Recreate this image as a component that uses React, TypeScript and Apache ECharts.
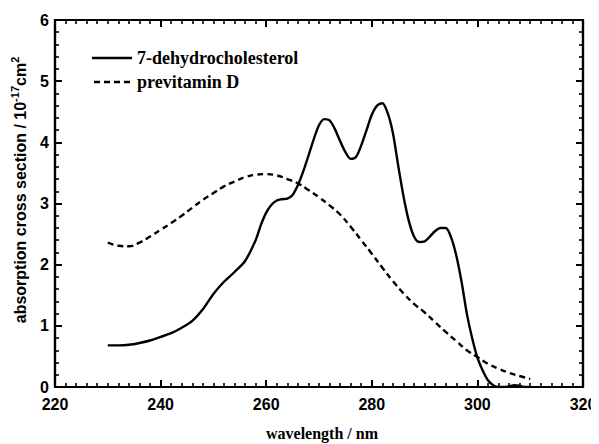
import React, { useEffect, useRef } from "react";
import * as echarts from "echarts";

const dhcWavelengths = [230, 232, 234, 236, 238, 240, 242, 244, 246, 248, 250, 252, 254, 256, 258, 259, 260, 261, 262, 263, 264, 265, 266, 267, 268, 269, 270, 271, 272, 273, 274, 275, 276, 277, 278, 279, 280, 281, 282, 283, 284, 285, 286, 287, 288, 289, 290, 291, 292, 293, 294, 295, 296, 297, 298, 299, 300, 301, 302, 303, 304, 305, 306, 307, 308, 309, 310];
const dhcValues = [0.68, 0.68, 0.69, 0.72, 0.76, 0.82, 0.88, 0.97, 1.08, 1.27, 1.52, 1.72, 1.88, 2.06, 2.4, 2.65, 2.85, 2.98, 3.05, 3.07, 3.08, 3.14, 3.3, 3.52, 3.78, 4.05, 4.28, 4.38, 4.36, 4.22, 4.02, 3.84, 3.73, 3.76, 3.95, 4.2, 4.45, 4.6, 4.64, 4.48, 4.15, 3.62, 3.12, 2.72, 2.46, 2.37, 2.38, 2.46, 2.55, 2.6, 2.6, 2.45, 2.15, 1.72, 1.2, 0.8, 0.48, 0.27, 0.11, 0.03, 0.0, 0.0, 0.01, 0.03, 0.02, 0.0, 0.0];

const previtWavelengths = [230, 232, 234, 236, 238, 240, 242, 244, 246, 248, 250, 252, 254, 256, 258, 260, 262, 264, 266, 268, 270, 272, 274, 276, 278, 280, 282, 284, 286, 288, 290, 292, 294, 296, 298, 300, 302, 304, 306, 308, 310];
const previtValues = [2.36, 2.31, 2.3, 2.36, 2.46, 2.57, 2.68, 2.8, 2.93, 3.06, 3.17, 3.28, 3.36, 3.43, 3.47, 3.48, 3.46, 3.4, 3.33, 3.22, 3.1, 2.97, 2.82, 2.62, 2.4, 2.18, 1.95, 1.73, 1.53, 1.36, 1.22, 1.06, 0.9, 0.75, 0.6, 0.49, 0.38, 0.3, 0.23, 0.18, 0.13];

const xRange = [220, 320];
const yRange = [0, 6];

const seriesNames = ["7-dehydrocholesterol", "previtamin D"];
const xTitle = "wavelength / nm";
const yTitleMain = "absorption cross section / 10";
const yTitleExp = "-17";
const yTitleUnit = "cm";
const yTitleUnitExp = "2";

const serif = "'Liberation Serif', 'Times New Roman', serif";
const sans = "'Liberation Sans', Arial, sans-serif";

const solidIcon = "path://M0,0H40V2.4H0Z";
const dashedIcon = "path://M0,0H6V2.4H0ZM10,0H16V2.4H10ZM20,0H26V2.4H20ZM30,0H36V2.4H30Z";

function axisStyle(showLabel: boolean, minorSplit: number, margin: number) {
  return {
    z: 10,
    axisLine: { show: true, onZero: false, lineStyle: { color: "#000", width: 2.2 } },
    axisTick: { show: true, inside: true, length: 7, lineStyle: { color: "#000", width: 2 } },
    minorTick: { show: true, splitNumber: minorSplit, length: 4, lineStyle: { color: "#000", width: 1.6 } },
    splitLine: { show: false },
    axisLabel: {
      show: showLabel,
      color: "#000",
      fontFamily: sans,
      fontWeight: "bold" as const,
      fontSize: 16,
      margin,
    },
  };
}

export default function App() {
  const ref = useRef<HTMLDivElement>(null);
  useEffect(() => {
    if (!ref.current) return;
    const chart = echarts.init(ref.current, undefined, { renderer: "svg" });
    chart.setOption({
      animation: false,
      grid: { left: 47, right: 24, top: 12, bottom: 65 },
      legend: {
        orient: "vertical",
        left: 84,
        top: 41,
        itemWidth: 40,
        itemHeight: 2.4,
        itemGap: 6,
        padding: 0,
        data: [
          { name: seriesNames[0], icon: solidIcon },
          { name: seriesNames[1], icon: dashedIcon },
        ],
        textStyle: { fontFamily: serif, fontWeight: "bold", fontSize: 18, color: "#000", lineHeight: 16 },
      },
      xAxis: [
        { type: "value", position: "bottom", min: xRange[0], max: xRange[1], interval: 20, ...axisStyle(true, 10, 9) },
        { type: "value", position: "top", min: xRange[0], max: xRange[1], interval: 20, ...axisStyle(false, 10, 9) },
      ],
      yAxis: [
        { type: "value", position: "left", min: yRange[0], max: yRange[1], interval: 1, ...axisStyle(true, 5, 6) },
        { type: "value", position: "right", min: yRange[0], max: yRange[1], interval: 1, ...axisStyle(false, 5, 6) },
      ],
      series: [
        {
          name: seriesNames[0],
          type: "line",
          xAxisIndex: 0,
          yAxisIndex: 0,
          symbol: "none",
          smooth: 0.3,
          data: dhcWavelengths.map((w, i) => [w, dhcValues[i]]),
          lineStyle: { color: "#000", width: 2.4, type: "solid" },
          itemStyle: { color: "#000" },
        },
        {
          name: seriesNames[1],
          type: "line",
          xAxisIndex: 0,
          yAxisIndex: 0,
          symbol: "none",
          smooth: 0.4,
          data: previtWavelengths.map((w, i) => [w, previtValues[i]]),
          lineStyle: { color: "#000", width: 2.4, type: [6, 4] },
          itemStyle: { color: "#000" },
        },
        {
          name: "frame",
          type: "line",
          xAxisIndex: 0,
          yAxisIndex: 0,
          symbol: "none",
          silent: true,
          clip: false,
          z: 3,
          data: [
            [xRange[0], yRange[0]],
            [xRange[1], yRange[0]],
            [xRange[1], yRange[1]],
            [xRange[0], yRange[1]],
            [xRange[0], yRange[0]],
          ],
          lineStyle: { color: "#000", width: 2.2, type: "solid", join: "miter" },
          itemStyle: { color: "#000" },
        },
      ],
      graphic: [
        {
          type: "text",
          x: 314,
          y: 425,
          style: {
            text: xTitle,
            font: `bold 16px ${serif}`,
            fill: "#000",
            align: "center",
            verticalAlign: "middle",
          },
        },
        {
          type: "text",
          x: 12,
          y: 182,
          rotation: Math.PI / 2,
          style: {
            text: `{a|${yTitleMain}}{s|${yTitleExp}}{a|${yTitleUnit}}{s|${yTitleUnitExp}}`,
            align: "center",
            verticalAlign: "middle",
            fill: "#000",
            rich: {
              a: { fontFamily: sans, fontWeight: "bold", fontSize: 16, lineHeight: 22, fill: "#000" },
              s: { fontFamily: sans, fontWeight: "bold", fontSize: 11, lineHeight: 11, verticalAlign: "top", fill: "#000" },
            },
          },
        },
      ],
    });
    return () => chart.dispose();
  }, []);
  return <div ref={ref} style={{ width: 599, height: 444 }} />;
}
